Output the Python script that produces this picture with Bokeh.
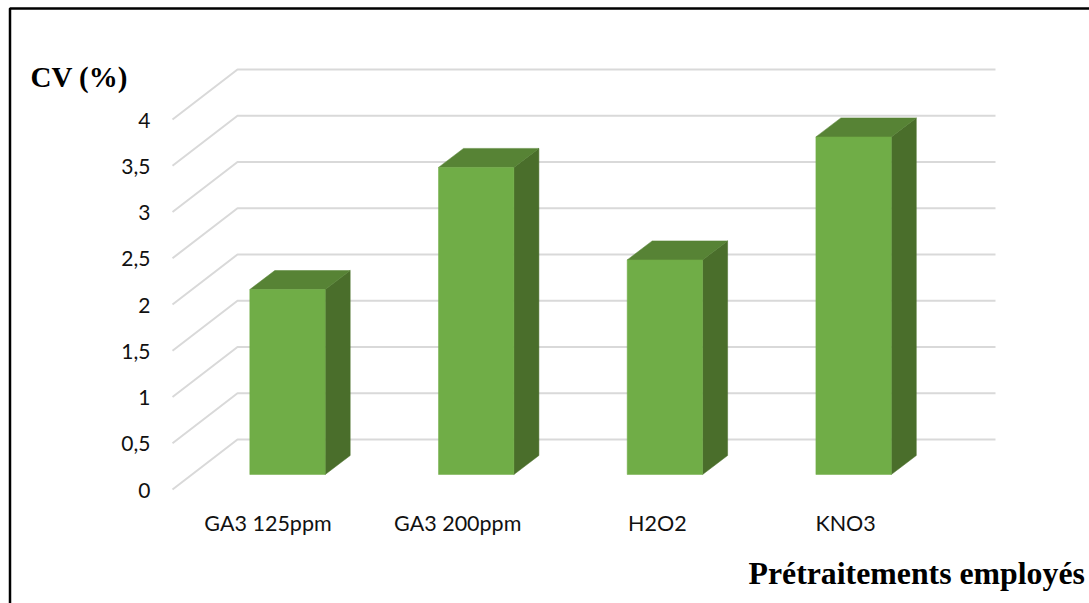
from bokeh.plotting import figure
from bokeh.embed import file_html
from bokeh.resources import INLINE
from bokeh.core.properties import value
from bokeh.models import Range1d

categories = ["GA3 125ppm", "GA3 200ppm", "H2O2", "KNO3"]
cv_values = [2.0, 3.32, 2.32, 3.65]
tick_values = [0, 0.5, 1, 1.5, 2, 2.5, 3, 3.5, 4]
tick_labels = ["0", "0,5", "1", "1,5", "2", "2,5", "3", "3,5", "4"]

W, H = 1089, 603
UX, UY = 188.7, 92.5        # pixels per category / per CV unit
X0, Y0 = 287.0, 474.0       # pixel position of first category centre and of the bar base

p = figure(width=W, height=H, output_backend="svg", toolbar_location=None,
           x_range=Range1d(-X0 / UX, (W - X0) / UX),
           y_range=Range1d((Y0 - H) / UY, Y0 / UY),
           min_border=0, outline_line_color=None, background_fill_color="white",
           border_fill_color="white")
p.axis.visible = False
p.grid.visible = False

# oblique projection of the 3-D box
bar_half = 37.7 / UX
depth_x, depth_y = 25 / UX, 19 / UY

# wall and floor gridlines
wall_left = -50 / UX
floor_left = -115 / UX
wall_right = 708 / UX
wall_dy = 35 / UY
floor_dy = -15 / UY
xs, ys = [], []
for v in tick_values:
    xs.append([floor_left, wall_left, wall_right])
    ys.append([v + floor_dy, v + wall_dy, v + wall_dy])
p.multi_line(xs, ys, line_color="#D9D9D9", line_width=2)

# boxes
for i, v in enumerate(cv_values):
    l, r = i - bar_half, i + bar_half
    p.patch([r, r + depth_x, r + depth_x, r], [0, depth_y, v + depth_y, v],
            fill_color="#4A6E2B", line_color="#4A6E2B", line_width=0.5)
    p.patch([l, r, r + depth_x, l + depth_x], [v, v, v + depth_y, v + depth_y],
            fill_color="#578335", line_color="#578335", line_width=0.5)
    p.quad(left=l, right=r, bottom=0, top=v, fill_color="#70AD47", line_color="#70AD47", line_width=0.5)

# value axis labels
p.text([-137 / UX] * len(tick_values), [v + floor_dy - 0.5 / UY for v in tick_values], text=tick_labels,
       text_font=value("Lato"), text_font_size="21px",
       text_align="right", text_baseline="middle", text_color="#111111")

# category labels, each nudged left of its box front
label_shift = [19.5, 18.5, 7.5, 8.0]
p.text([i - label_shift[i] / UX for i in range(len(categories))], [-48 / UY] * len(categories), text=categories,
       text_font=value("Lato"), text_font_size="21.5px",
       text_align="center", text_baseline="middle", text_color="#111111")

# axis titles
p.text([(30 - X0) / UX], [(Y0 - 76) / UY], text=["CV (%)"], text_font=value("Liberation Serif"),
       text_font_style="bold", text_font_size="29px", text_align="left", text_baseline="middle",
       text_color="black")
p.text([(748 - X0) / UX], [(Y0 - 573) / UY], text=["Prétraitements employés"], text_font=value("Liberation Serif"),
       text_font_style="bold", text_font_size="31.8px", text_align="left", text_baseline="middle",
       text_color="black")

# surrounding frame, open on the right
p.line([(1089 - X0) / UX, (9.5 - X0) / UX, (9.5 - X0) / UX],
       [(Y0 - 8) / UY, (Y0 - 8) / UY, (Y0 - 603) / UY],
       line_color="black", line_width=2.5)

open("out.html", "w").write(file_html(p, INLINE))
